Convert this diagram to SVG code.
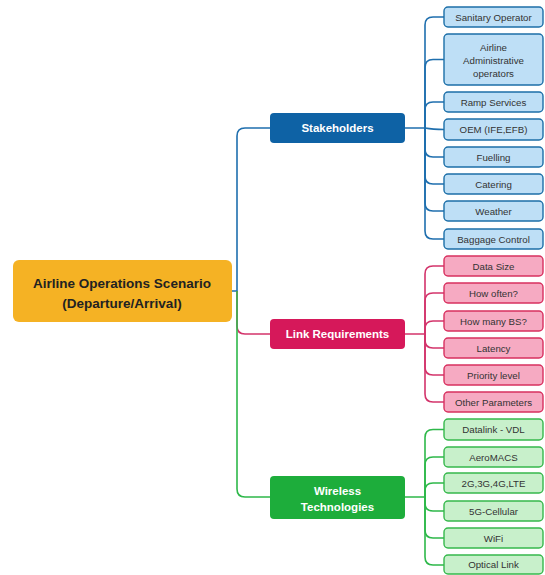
<svg xmlns="http://www.w3.org/2000/svg" width="545" height="575" viewBox="0 0 545 575">
<style>
text{font-family:"Liberation Sans",Arial,sans-serif;text-anchor:middle}
.root rect{fill:#F5B224}
.root text{font-size:13.5px;font-weight:bold;fill:#222}
.br text{font-size:11.5px;font-weight:bold;fill:#fff}
.lf text{font-size:9.7px;fill:#333}
.sb rect{fill:#BEDFF6;stroke:#1C6FA8;stroke-width:1.4}
.lk rect{fill:#F6AAC2;stroke:#D8305F;stroke-width:1.4}
.wt rect{fill:#C8F0CB;stroke:#36B84C;stroke-width:1.4}
.c{fill:none;stroke-width:1.6}
.cb{stroke:#1F6FAE}.cp{stroke:#D3346B}.cg{stroke:#2EB84A}
</style>
<rect width="545" height="575" fill="#fff"/>
<g id="connectors">
<path class="c cb" d="M232,291 H237 V136 Q237,128 245,128 H270"/>
<path class="c cp" d="M237,291 V326 Q237,334 245,334 H270"/>
<path class="c cg" d="M237,291 V489 Q237,497 245,497 H270"/>
<g class="c cb">
<path d="M405,128 H425 V25 Q425,17 433,17 H444"/>
<path d="M425,128 V67.5 Q425,59.5 433,59.5 H444"/>
<path d="M425,128 V110 Q425,102 433,102 H444"/>
<path d="M425,128 Q433,129.5 444,129.5"/>
<path d="M425,128 V149 Q425,157 433,157 H444"/>
<path d="M425,128 V176 Q425,184 433,184 H444"/>
<path d="M425,128 V203 Q425,211 433,211 H444"/>
<path d="M425,128 V231 Q425,239 433,239 H444"/>
</g>
<g class="c cp">
<path d="M405,334 H425 V274 Q425,266 433,266 H444"/>
<path d="M425,334 V301 Q425,293 433,293 H444"/>
<path d="M425,334 V329 Q425,321 433,321 H444"/>
<path d="M425,334 V340 Q425,348 433,348 H444"/>
<path d="M425,334 V367 Q425,375 433,375 H444"/>
<path d="M425,334 V394 Q425,402 433,402 H444"/>
</g>
<g class="c cg">
<path d="M405,497 H425 V437.5 Q425,429.5 433,429.5 H444"/>
<path d="M425,497 V465 Q425,457 433,457 H444"/>
<path d="M425,497 V491 Q425,483 433,483 H444"/>
<path d="M425,497 V503 Q425,511 433,511 H444"/>
<path d="M425,497 V530 Q425,538 433,538 H444"/>
<path d="M425,497 V557 Q425,565 433,565 H444"/>
</g>
</g>
<g id="root" class="root">
<rect x="13" y="260" width="219" height="62" rx="6"/>
<text x="122" y="288">Airline Operations Scenario</text>
<text x="122" y="307.5">(Departure/Arrival)</text>
</g>
<g id="stakeholders" class="br"><rect x="270" y="113" width="135" height="30" rx="4" fill="#0E62A5"/><text x="337.5" y="132">Stakeholders</text></g>
<g id="link-requirements" class="br"><rect x="270" y="319" width="135" height="30" rx="4" fill="#D6185A"/><text x="337.5" y="338">Link Requirements</text></g>
<g id="wireless-technologies" class="br"><rect x="270" y="476" width="135" height="43" rx="4" fill="#1DAD3B"/><text x="337.5" y="495">Wireless</text><text x="337.5" y="511">Technologies</text></g>
<g class="lf sb">
<g id="sanitary-operator"><rect x="444" y="7" width="99" height="20" rx="4"/><text x="493.5" y="20.5">Sanitary Operator</text></g>
<g id="airline-admin"><rect x="444" y="34" width="99" height="51" rx="4"/><text x="493.5" y="50.5">Airline</text><text x="493.5" y="63.5">Administrative</text><text x="493.5" y="76.5">operators</text></g>
<g id="ramp-services"><rect x="444" y="92" width="99" height="20" rx="4"/><text x="493.5" y="105.5">Ramp Services</text></g>
<g id="oem"><rect x="444" y="119" width="99" height="21" rx="4"/><text x="493.5" y="133">OEM (IFE,EFB)</text></g>
<g id="fuelling"><rect x="444" y="147" width="99" height="20" rx="4"/><text x="493.5" y="160.5">Fuelling</text></g>
<g id="catering"><rect x="444" y="174" width="99" height="20" rx="4"/><text x="493.5" y="187.5">Catering</text></g>
<g id="weather"><rect x="444" y="201" width="99" height="20" rx="4"/><text x="493.5" y="214.5">Weather</text></g>
<g id="baggage-control"><rect x="444" y="229" width="99" height="20" rx="4"/><text x="493.5" y="242.5">Baggage Control</text></g>
</g>
<g class="lf lk">
<g id="data-size"><rect x="444" y="256" width="99" height="20" rx="4"/><text x="493.5" y="269.5">Data Size</text></g>
<g id="how-often"><rect x="444" y="283" width="99" height="20" rx="4"/><text x="493.5" y="296.5">How often?</text></g>
<g id="how-many-bs"><rect x="444" y="311" width="99" height="20" rx="4"/><text x="493.5" y="324.5">How many BS?</text></g>
<g id="latency"><rect x="444" y="338" width="99" height="20" rx="4"/><text x="493.5" y="351.5">Latency</text></g>
<g id="priority-level"><rect x="444" y="365" width="99" height="20" rx="4"/><text x="493.5" y="378.5">Priority level</text></g>
<g id="other-parameters"><rect x="444" y="392" width="99" height="20" rx="4"/><text x="493.5" y="405.5">Other Parameters</text></g>
</g>
<g class="lf wt">
<g id="datalink-vdl"><rect x="444" y="419" width="99" height="21" rx="4"/><text x="493.5" y="433">Datalink - VDL</text></g>
<g id="aeromacs"><rect x="444" y="447" width="99" height="20" rx="4"/><text x="493.5" y="460.5">AeroMACS</text></g>
<g id="cellular-2g-lte"><rect x="444" y="473" width="99" height="20" rx="4"/><text x="493.5" y="486.5">2G,3G,4G,LTE</text></g>
<g id="cellular-5g"><rect x="444" y="501" width="99" height="20" rx="4"/><text x="493.5" y="514.5">5G-Cellular</text></g>
<g id="wifi"><rect x="444" y="528" width="99" height="20" rx="4"/><text x="493.5" y="541.5">WiFi</text></g>
<g id="optical-link"><rect x="444" y="555" width="99" height="19" rx="4"/><text x="493.5" y="568">Optical Link</text></g>
</g>
</svg>
